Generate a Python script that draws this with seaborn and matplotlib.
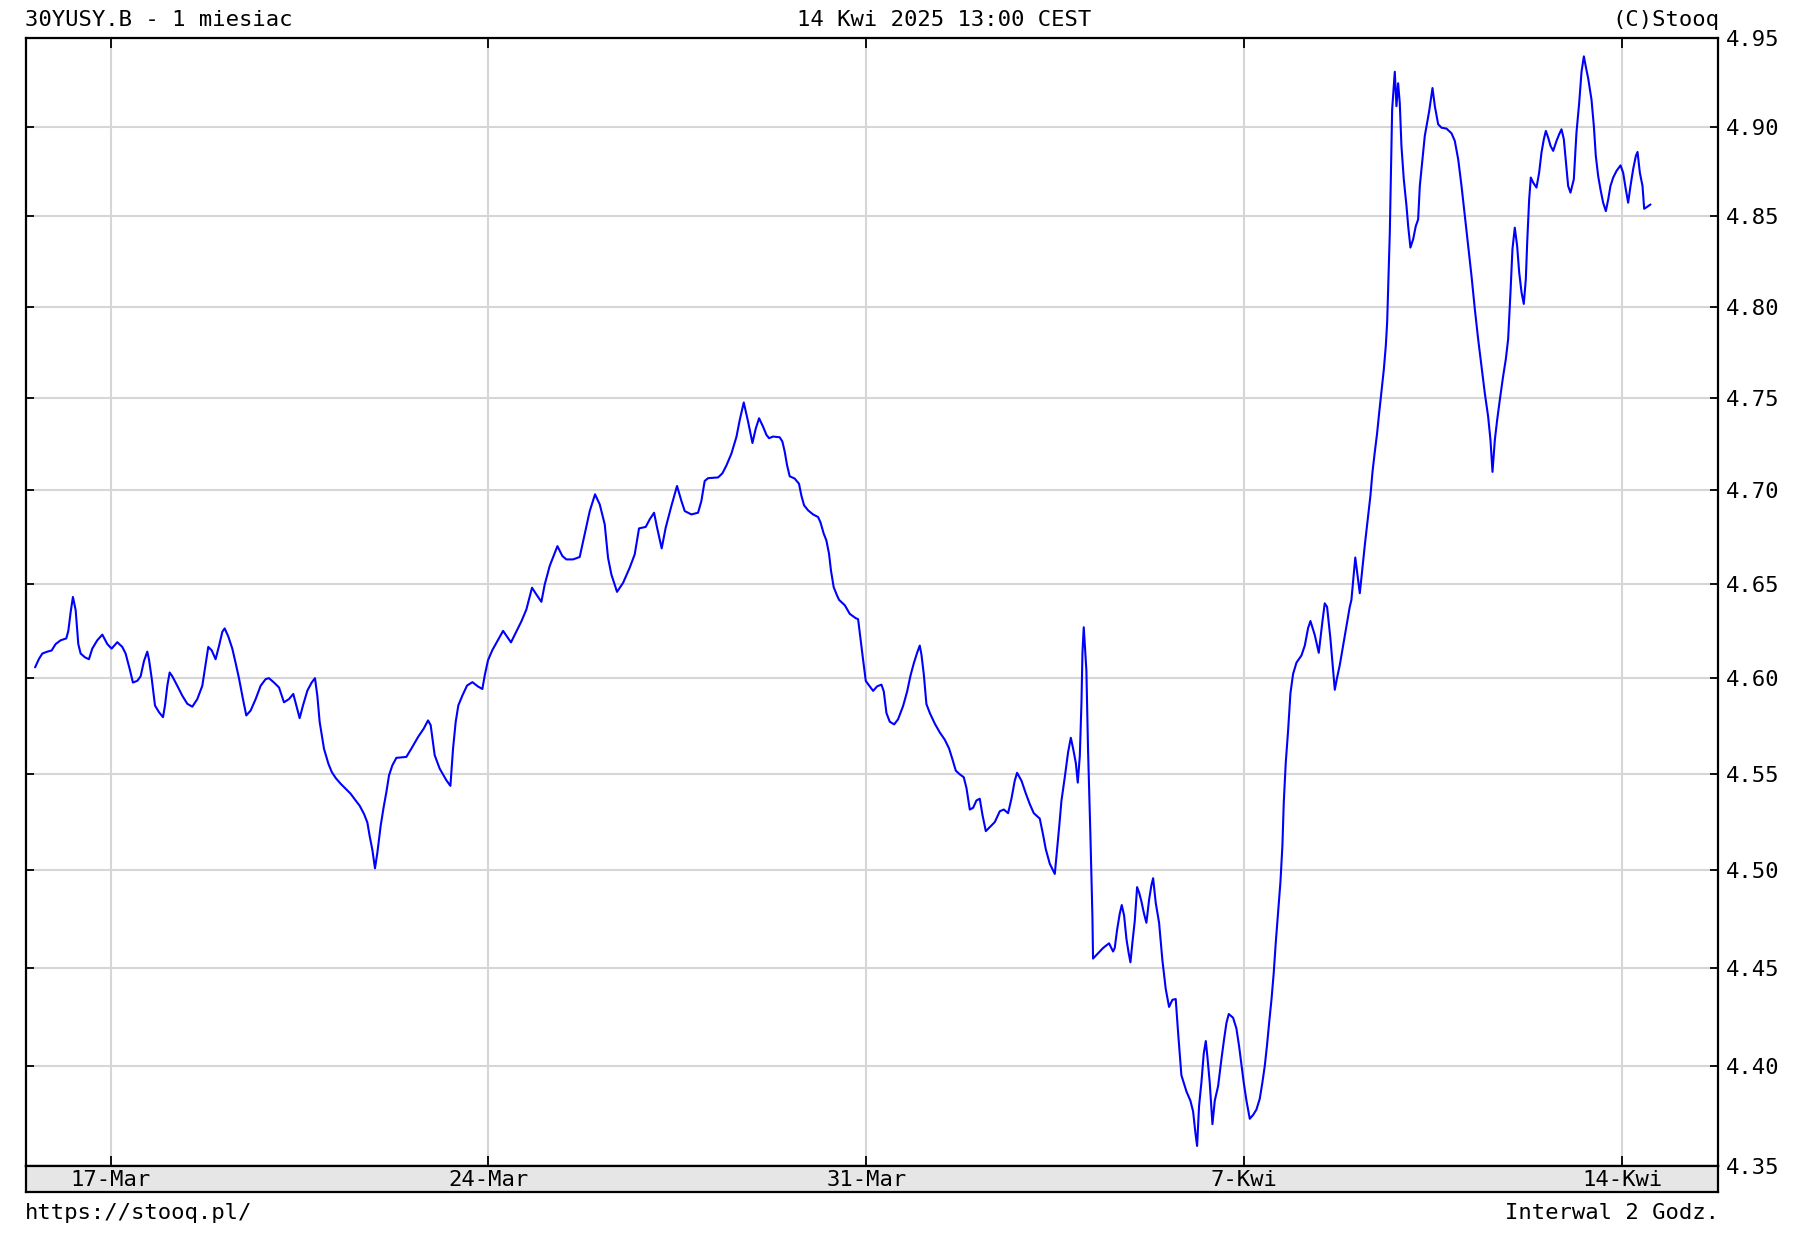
import pandas as pd
import seaborn as sns
import matplotlib.pyplot as plt
import matplotlib.ticker as mticker

# x = trading days counted from the 17-Mar open (stooq leaves weekends out)
# week 1: 14-Mar (partial) .. 21-Mar
t_wk1 = [-1.00, -0.948, -0.904, -0.838, -0.781, -0.728, -0.662, -0.587, -0.560, -0.529,
         -0.499, -0.463, -0.428, -0.397, -0.340, -0.287, -0.243, -0.177, -0.110, -0.044,
         0.013, 0.088, 0.154, 0.198, 0.251, 0.295, 0.353, 0.397, 0.441, 0.485,
         0.507, 0.543, 0.587, 0.640, 0.693, 0.719, 0.750, 0.781, 0.816, 0.882,
         0.948, 1.015, 1.081, 1.147, 1.213, 1.257, 1.292, 1.337, 1.389, 1.434,
         1.478, 1.509, 1.557, 1.610, 1.654, 1.698, 1.751, 1.795, 1.853, 1.919,
         1.985, 2.051, 2.095, 2.162, 2.228, 2.294, 2.360, 2.417, 2.457, 2.501,
         2.545, 2.603, 2.660, 2.704, 2.735, 2.766, 2.823, 2.881, 2.925, 2.978,
         3.044, 3.110, 3.176, 3.242, 3.295, 3.353, 3.397, 3.428, 3.463, 3.498,
         3.529, 3.573, 3.613, 3.649, 3.684, 3.728, 3.781, 3.913, 3.979, 4.068,
         4.143, 4.200, 4.235, 4.288, 4.354, 4.443, 4.496, 4.531, 4.566, 4.601,
         4.654, 4.716, 4.787, 4.862, 4.919, 4.950, 4.994]
y_wk1 = [4.6057, 4.6102, 4.613, 4.614, 4.6146, 4.618, 4.620, 4.621, 4.625, 4.635,
         4.643, 4.636, 4.618, 4.613, 4.611, 4.610, 4.6156, 4.620, 4.623, 4.618,
         4.6156, 4.619, 4.6165, 4.613, 4.605, 4.5977, 4.5986, 4.601, 4.609, 4.614,
         4.610, 4.600, 4.5856, 4.5821, 4.5795, 4.5856, 4.596, 4.603, 4.601, 4.596,
         4.5908, 4.5865, 4.585, 4.589, 4.596, 4.6075, 4.6165, 4.6147, 4.610, 4.617,
         4.6245, 4.6263, 4.622, 4.6156, 4.608, 4.600, 4.589, 4.5804, 4.583, 4.589,
         4.596, 4.5995, 4.600, 4.5977, 4.5951, 4.5873, 4.589, 4.5917, 4.5856, 4.579,
         4.5856, 4.5934, 4.5977, 4.600, 4.5908, 4.577, 4.563, 4.5552, 4.5509, 4.5477,
         4.5447, 4.5421, 4.5395, 4.536, 4.5333, 4.529, 4.5246, 4.5175, 4.5105, 4.5009,
         4.5088, 4.5228, 4.5326, 4.5404, 4.5491, 4.5543, 4.5582, 4.5587, 4.563, 4.5691,
         4.5735, 4.5778, 4.5753, 4.5596, 4.5526, 4.5465, 4.5436, 4.563, 4.577, 4.5857,
         4.5908, 4.5961, 4.5979, 4.5956, 4.5943, 4.6014, 4.6095]

# week 2: 24-Mar .. 28-Mar
t_wk2 = [5.051, 5.113, 5.193, 5.245, 5.298, 5.369, 5.435, 5.501, 5.576, 5.634,
         5.700, 5.744, 5.810, 5.912, 5.978, 6.031, 6.119, 6.207, 6.273, 6.340,
         6.410, 6.472, 6.538, 6.582, 6.626, 6.701, 6.781, 6.869, 6.935, 6.992,
         7.081, 7.134, 7.191, 7.231, 7.292, 7.345, 7.420, 7.495, 7.553, 7.597,
         7.685, 7.773, 7.817, 7.861, 7.906, 8.038, 8.095, 8.148, 8.214, 8.281,
         8.325, 8.378, 8.435, 8.493, 8.537, 8.581, 8.633, 8.678, 8.713, 8.766,
         8.854, 8.889, 8.920, 8.951, 8.986, 9.052, 9.109, 9.140, 9.176, 9.229,
         9.295, 9.361, 9.392, 9.436, 9.471, 9.506, 9.532, 9.568, 9.612, 9.640,
         9.715, 9.781, 9.860, 9.891, 9.922, 9.957, 9.993]
y_wk2 = [4.6148, 4.6193, 4.625, 4.622, 4.6189, 4.6246, 4.630, 4.6363, 4.6479, 4.6443,
         4.6404, 4.6496, 4.6595, 4.6701, 4.6648, 4.663, 4.663, 4.6643, 4.6764, 4.6889,
         4.6979, 4.6925, 4.6818, 4.6639, 4.655, 4.6457, 4.6505, 4.6586, 4.6657, 4.6796,
         4.6804, 4.6845, 4.688, 4.680, 4.6689, 4.680, 4.6916, 4.7024, 4.6943, 4.6889,
         4.6871, 4.688, 4.6943, 4.7051, 4.7066, 4.707, 4.7092, 4.7134, 4.7198, 4.7289,
         4.7381, 4.7476, 4.7372, 4.7256, 4.7335, 4.739, 4.7345, 4.730, 4.7282, 4.7291,
         4.7287, 4.7264, 4.7209, 4.7136, 4.7076, 4.7064, 4.7036, 4.6973, 4.692, 4.6893,
         4.6871, 4.6857, 4.683, 4.6768, 4.6732, 4.6661, 4.6571, 4.6482, 4.6438, 4.6414,
         4.6386, 4.634, 4.6317, 4.6312, 4.6209, 4.6097, 4.5985]

# week 3: 31-Mar .. 4-Kwi
t_wk3 = [10.045, 10.090, 10.143, 10.200, 10.231, 10.266, 10.310, 10.368, 10.420, 10.487,
         10.540, 10.584, 10.628, 10.672, 10.707, 10.729, 10.760, 10.795, 10.840, 10.906,
         10.972, 11.038, 11.095, 11.139, 11.184, 11.237, 11.289, 11.325, 11.369, 11.413,
         11.457, 11.501, 11.537, 11.581, 11.642, 11.700, 11.766, 11.819, 11.876, 11.920,
         11.964, 11.995, 12.053, 12.110, 12.163, 12.216, 12.295, 12.339, 12.375, 12.428,
         12.494, 12.525, 12.551, 12.582, 12.626, 12.670, 12.706, 12.736, 12.772, 12.798,
         12.825, 12.847, 12.860, 12.877, 12.912, 12.934, 12.965, 12.992, 13.000, 13.067,
         13.133, 13.212, 13.265, 13.287, 13.318, 13.353, 13.380, 13.411, 13.442, 13.472,
         13.495, 13.521, 13.552, 13.583, 13.609, 13.640, 13.675, 13.706, 13.742, 13.772,
         13.795, 13.830, 13.874, 13.918, 13.962, 14.006, 14.050, 14.094, 14.125, 14.169,
         14.236, 14.288, 14.324, 14.355, 14.377, 14.403, 14.434, 14.465, 14.492, 14.514,
         14.544, 14.580, 14.611, 14.655, 14.699, 14.734, 14.765, 14.796, 14.853, 14.897,
         14.933, 14.964, 14.994]
y_wk3 = [4.5957, 4.5933, 4.5957, 4.5966, 4.593, 4.5817, 4.5771, 4.5757, 4.5784, 4.5854,
         4.593, 4.6013, 4.6078, 4.6134, 4.6172, 4.6125, 4.6022, 4.5864, 4.5817, 4.5761,
         4.5715, 4.5677, 4.5631, 4.5575, 4.5515, 4.5496, 4.5481, 4.5425, 4.5313, 4.5322,
         4.536, 4.5369, 4.5285, 4.5201, 4.5225, 4.5248, 4.5304, 4.5313, 4.5294, 4.5369,
         4.5463, 4.5504, 4.5463, 4.5397, 4.5341, 4.5294, 4.5266, 4.5182, 4.5107, 4.5032,
         4.498, 4.5107, 4.5219, 4.5359, 4.5481, 4.5612, 4.5687, 4.5631, 4.5556, 4.5453,
         4.5593, 4.5873, 4.6134, 4.6269, 4.6041, 4.5622, 4.5182, 4.4757, 4.4546, 4.4573,
         4.46, 4.4624, 4.4582, 4.46, 4.4692, 4.4775, 4.482, 4.4766, 4.4646, 4.4573,
         4.4527, 4.4628, 4.4738, 4.4912, 4.4885, 4.4839, 4.4775, 4.4729, 4.4848, 4.4921,
         4.4958, 4.483, 4.4729, 4.4536, 4.4391, 4.43, 4.4336, 4.434, 4.4173, 4.3955,
         4.3873, 4.3827, 4.3773, 4.3664, 4.36, 4.38, 4.3918, 4.4064, 4.4127, 4.4045,
         4.3918, 4.3709, 4.3827, 4.39, 4.4036, 4.4136, 4.4218, 4.4264, 4.4245, 4.4191,
         4.41, 4.4009, 4.3918]

# week 4: 7-Kwi .. 11-Kwi
t_wk4 = [15.030, 15.074, 15.118, 15.162, 15.206, 15.241, 15.272, 15.303, 15.330, 15.361,
         15.391, 15.418, 15.449, 15.480, 15.506, 15.524, 15.550, 15.581, 15.612, 15.647,
         15.692, 15.758, 15.802, 15.846, 15.877, 15.934, 15.987, 16.036, 16.066, 16.097,
         16.141, 16.177, 16.199, 16.230, 16.265, 16.309, 16.353, 16.397, 16.419, 16.47,
         16.53, 16.60, 16.671, 16.698, 16.729, 16.759, 16.786, 16.817, 16.848, 16.874,
         16.892, 16.909, 16.927, 16.940, 16.958, 16.993, 17.015, 17.037, 17.059, 17.081,
         17.112, 17.148, 17.170, 17.200, 17.236, 17.271, 17.302, 17.324, 17.359, 17.390,
         17.421, 17.448, 17.492, 17.523, 17.567, 17.611, 17.677, 17.743, 17.787, 17.832,
         17.876, 17.920, 17.964, 18.008, 18.052, 18.096, 18.140, 18.184, 18.228, 18.259,
         18.286, 18.317, 18.348, 18.383, 18.427, 18.462, 18.493, 18.524, 18.550, 18.581,
         18.612, 18.639, 18.670, 18.700, 18.727, 18.745, 18.771, 18.793, 18.824, 18.868,
         18.903, 18.934, 18.965, 18.992, 19.023, 19.054, 19.089, 19.133, 19.168, 19.199,
         19.230, 19.256, 19.287, 19.318, 19.362, 19.397, 19.433, 19.464, 19.495, 19.521,
         19.552, 19.596, 19.627, 19.653, 19.684, 19.715, 19.750, 19.786, 19.817, 19.847,
         19.883, 19.927, 19.980]
y_wk4 = [4.3827, 4.3736, 4.3755, 4.3782, 4.3836, 4.3918, 4.40, 4.4109, 4.4218, 4.4336,
         4.4473, 4.4628, 4.4784, 4.494, 4.5127, 4.5351, 4.5556, 4.5724, 4.592, 4.6022,
         4.6082, 4.612, 4.6172, 4.6265, 4.6302, 4.6228, 4.6134, 4.6302, 4.6396, 4.6377,
         4.6209, 4.6041, 4.5939, 4.6004, 4.6069, 4.6172, 4.6274, 4.6377, 4.6414, 4.664,
         4.645, 4.672, 4.6973, 4.71, 4.7209, 4.7309, 4.7418, 4.7537, 4.7656, 4.7785,
         4.7914, 4.8152, 4.8408, 4.8705, 4.9096, 4.9309, 4.9115, 4.9244, 4.9133, 4.8892,
         4.8705, 4.8556, 4.8445, 4.8326, 4.8372, 4.8445, 4.8482, 4.8668, 4.8817, 4.8948,
         4.9022, 4.9087, 4.9217, 4.9115, 4.9013, 4.8994, 4.8989, 4.8963, 4.892, 4.8817,
         4.8668, 4.85, 4.8335, 4.817, 4.7987, 4.7822, 4.7675, 4.7527, 4.74, 4.7273,
         4.71, 4.7273, 4.7382, 4.7491, 4.762, 4.7711, 4.7822, 4.8079, 4.8317, 4.8436,
         4.8335, 4.8189, 4.8079, 4.8015, 4.8152, 4.8353, 4.8593, 4.8715, 4.8687, 4.8659,
         4.8742, 4.8854, 4.8929, 4.8976, 4.8938, 4.8892, 4.8864, 4.892, 4.8957, 4.8985,
         4.8929, 4.8808, 4.8668, 4.8631, 4.8705, 4.8966, 4.9133, 4.9309, 4.9396, 4.9337,
         4.9272, 4.9152, 4.9004, 4.8836, 4.8724, 4.8649, 4.8575, 4.8528, 4.8593, 4.8668,
         4.8715, 4.8752, 4.8783]

# week 5: 14-Kwi up to 13:00
t_wk5 = [20.015, 20.050, 20.081, 20.112, 20.147, 20.183, 20.205, 20.236, 20.271, 20.293,
         20.333, 20.377]
y_wk5 = [4.8742, 4.8649, 4.8575, 4.8668, 4.8761, 4.8836, 4.8858, 4.8742, 4.8668, 4.8541,
         4.8552, 4.8565]

week_pos = [0, 5, 10, 15, 20]
week_labels = ['17-Mar', '24-Mar', '31-Mar', '7-Kwi', '14-Kwi']
y_ticks = [4.35, 4.40, 4.45, 4.50, 4.55, 4.60, 4.65, 4.70, 4.75, 4.80, 4.85, 4.90, 4.95]

df = pd.DataFrame({
    'day': t_wk1 + t_wk2 + t_wk3 + t_wk4 + t_wk5,
    'yield': y_wk1 + y_wk2 + y_wk3 + y_wk4 + y_wk5,
})

sns.set_style('white')
plt.rcParams['font.family'] = ['DejaVu Sans Mono']
plt.rcParams['text.color'] = 'black'

W, H = 1796, 1240
fig = plt.figure(figsize=(W / 100, H / 100), dpi=100)
fig.patch.set_facecolor('white')

# main chart area and the grey date strip under it
ax = fig.add_axes([26 / W, 1 - 1166 / H, 1692 / W, 1128 / H])
band = fig.add_axes([26 / W, 1 - 1192 / H, 1692 / W, 26 / H])

sns.lineplot(data=df, x='day', y='yield', ax=ax, color='#0000ff',
             linewidth=1.5, estimator=None, sort=False)

xlim = (-1.12, 21.27)
ax.set_yscale('log')
ax.set_ylim(4.35, 4.95)
ax.set_xlim(*xlim)
ax.set_yticks(y_ticks, labels=[f'{v:.2f}' for v in y_ticks])
ax.yaxis.set_minor_locator(mticker.NullLocator())
ax.yaxis.set_minor_formatter(mticker.NullFormatter())
ax.set_xticks(week_pos, labels=[])
ax.set_xlabel('')
ax.set_ylabel('')
ax.grid(True, color='#d6d6d6', linewidth=1.5)
ax.tick_params(axis='x', direction='in', top=True, bottom=True, length=7,
               width=1.3, color='black', labelbottom=False)
ax.tick_params(axis='y', direction='in', left=True, right=True, labelleft=False,
               labelright=True, length=6, width=1.3, color='black', pad=6,
               labelsize=16, labelcolor='black')
for s in ax.spines.values():
    s.set_color('black')
    s.set_linewidth(1.6)

band.set_xlim(*xlim)
band.set_ylim(0, 1)
band.set_xticks([])
band.set_yticks([])
band.set_facecolor('#e6e6e6')
for s in band.spines.values():
    s.set_color('black')
    s.set_linewidth(1.6)
for p, lab in zip(week_pos, week_labels):
    band.text(p, 0.45, lab, ha='center', va='center', fontsize=16)

# header and footer texts
fig.text(25 / W, 1 - 20 / H, '30YUSY.B - 1 miesiac', ha='left', va='center', fontsize=16)
fig.text(797 / W, 1 - 20 / H, '14 Kwi 2025 13:00 CEST', ha='left', va='center', fontsize=16)
fig.text(1719 / W, 1 - 20 / H, '(C)Stooq', ha='right', va='center', fontsize=16)
fig.text(25 / W, 1 - 1213 / H, 'https://stooq.pl/', ha='left', va='center', fontsize=16)
fig.text(1719 / W, 1 - 1213 / H, 'Interwal 2 Godz.', ha='right', va='center', fontsize=16)

fig.savefig('out.png', dpi=100)
